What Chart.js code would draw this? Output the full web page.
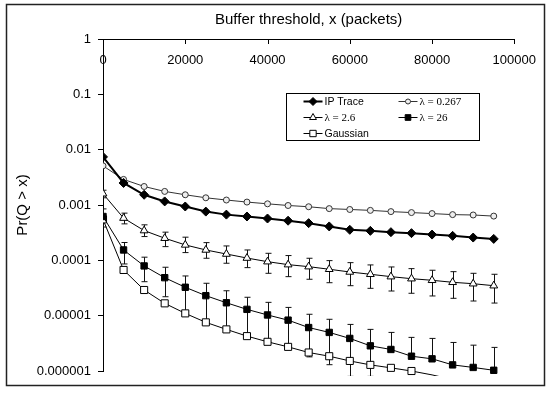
<!DOCTYPE html>
<html lang="en">
<head>
<meta charset="UTF-8" />
<title>Pr(Q &gt; x) vs buffer threshold</title>
<script src="https://cdn.jsdelivr.net/npm/chart.js"></script>
<style>
  body { margin: 0; background: #fff; }
  canvas { display: block; }
</style>
</head>
<body>
<canvas id="chart" width="550" height="393"></canvas>
<script>
// buffer threshold (packets)
const xValues = [0, 5000, 10000, 15000, 20000, 25000, 30000, 35000, 40000, 45000,
  50000, 55000, 60000, 65000, 70000, 75000, 80000, 85000, 90000, 95000];

const ipTrace = [0.0074, 0.0025, 0.00153, 0.00116, 0.00094, 0.00076, 0.00067, 0.00062, 0.00057, 0.00052,
  0.00047, 0.00041, 0.000356, 0.000341, 0.000323, 0.00031, 0.000292, 0.000277, 0.000258, 0.000244];

const lambda0267 = [0.0051, 0.0029, 0.00216, 0.00176, 0.00153, 0.00135, 0.00123, 0.00113, 0.00105, 0.00098,
  0.00093, 0.00086, 0.00083, 0.0008, 0.00076, 0.00073, 0.0007, 0.00067, 0.00066, 0.00063];

const lambda2_6 = [0.0016, 0.00058, 0.000345, 0.000251, 0.00019, 0.000154, 0.00013, 0.00011, 0.0000946, 0.0000836,
  0.0000769, 0.000069, 0.0000616, 0.000056, 0.0000507, 0.0000466, 0.0000436, 0.0000401, 0.0000378, 0.0000348];
const lambda2_6Hi = [0.00185, 0.000713, 0.000438, 0.000323, 0.000262, 0.000209, 0.000182, 0.000154, 0.000134, 0.000122,
  0.000109, 0.0000988, 0.0000908, 0.0000826, 0.0000759, 0.0000708, 0.0000662, 0.0000624, 0.0000583, 0.000056];
const lambda2_6Lo = [0.00135, 0.000456, 0.000269, 0.000177, 0.000138, 0.000109, 0.0000886, 0.0000738, 0.0000583, 0.0000507,
  0.0000455, 0.0000394, 0.0000348, 0.0000312, 0.0000279, 0.0000254, 0.0000227, 0.0000206, 0.0000184, 0.0000169];

const lambda26 = [0.00062, 0.000154, 0.0000792, 0.0000486, 0.0000326, 0.000023, 0.0000171, 0.000013, 0.0000103, 0.0000083,
  0.0000061, 0.00000498, 0.00000388, 0.00000285, 0.00000245, 0.00000185, 0.00000166, 0.00000129, 0.00000116, 0.00000103];
const lambda26Hi = [0.00085, 0.00021, 0.000114, 0.000075, 0.0000522, 0.0000385, 0.0000282, 0.0000215, 0.0000174, 0.0000141,
  0.0000106, 0.0000086, 0.00000695, 0.00000565, 0.00000498, 0.00000405, 0.00000388, 0.00000328, 0.00000293, 0.00000267];
// lower bound goes negative for the last points, so no lower bar there
const lambda26Lo = [0.0004, 0.000086, 0.0000411, 0.000022, 0.0000118, 0.0000073, 0.0000058, 0.0000044, 0.0000033, 0.0000026,
  0.0000018, 0.0000013, 0.0000008, 0.0000008, null, null, null, null, null, null];

const gaussian = [0.00055, 0.000067, 0.0000291, 0.0000167, 0.000011, 0.00000757, 0.00000565, 0.00000427, 0.00000337, 0.00000273,
  0.00000216, 0.00000185, 0.00000152, 0.00000129, 0.00000114, 0.000001, 0.00000085, 0.0000007, 0.0000006, 0.0000005];

const yTicks = [0.000001, 0.00001, 0.0001, 0.001, 0.01, 0.1, 1];
const yTickLabels = ['0.000001', '0.00001', '0.0001', '0.001', '0.01', '0.1', '1'];

const SANS = "'Liberation Sans', Arial, sans-serif";
const SERIF = "'Liberation Serif', 'Times New Roman', serif";

function pts(vals) {
  return vals.map((v, i) => ({ x: xValues[i], y: v }));
}

// hide markers that fall under the axis minimum, the line still runs off the bottom
function radiusAbove(r) {
  return ctx => (ctx.raw && ctx.raw.y < 0.000001 ? 0 : r);
}

const clipArea = { left: 0, top: 0, right: 0, bottom: 5 };

const errorBars = {
  id: 'errorBars',
  beforeDatasetsDraw(chart) {
    const { ctx, chartArea, scales: { x, y } } = chart;
    ctx.save();
    ctx.beginPath();
    ctx.rect(chartArea.left, chartArea.top, chartArea.right - chartArea.left, chartArea.bottom - chartArea.top + 5);
    ctx.clip();
    ctx.strokeStyle = '#111';
    ctx.lineWidth = 1;
    chart.data.datasets.forEach(ds => {
      if (!ds.errHi) return;
      ds.data.forEach((p, i) => {
        const hi = ds.errHi[i];
        const lo = ds.errLo[i];
        const px = Math.round(x.getPixelForValue(p.x)) + 0.5;
        const mid = y.getPixelForValue(p.y);
        const top = hi != null ? y.getPixelForValue(hi) : mid;
        const bot = lo != null ? y.getPixelForValue(lo) : mid;
        ctx.beginPath();
        ctx.moveTo(px, top);
        ctx.lineTo(px, bot);
        if (hi != null) { ctx.moveTo(px - 3, top); ctx.lineTo(px + 3, top); }
        if (lo != null) { ctx.moveTo(px - 3, bot); ctx.lineTo(px + 3, bot); }
        ctx.stroke();
      });
    });
    ctx.restore();
  }
};

// x ticks in the reference point down into the plot
const innerTicks = {
  id: 'innerTicks',
  afterDraw(chart) {
    const { ctx, chartArea, scales: { x } } = chart;
    ctx.save();
    ctx.strokeStyle = '#000';
    ctx.lineWidth = 1;
    x.ticks.forEach(t => {
      const px = Math.round(x.getPixelForValue(t.value)) + 0.5;
      ctx.beginPath();
      ctx.moveTo(px, chartArea.top);
      ctx.lineTo(px, chartArea.top + 5);
      ctx.stroke();
    });
    ctx.restore();
  }
};

const boxLegend = {
  id: 'boxLegend',
  afterDraw(chart) {
    const ctx = chart.ctx;
    const entries = [
      { ds: 0, col: 0, row: 0, font: SANS, size: 10.5 },
      { ds: 1, col: 1, row: 0, font: SERIF, size: 11 },
      { ds: 2, col: 0, row: 1, font: SERIF, size: 11 },
      { ds: 3, col: 1, row: 1, font: SERIF, size: 11 },
      { ds: 4, col: 0, row: 2, font: SANS, size: 10.5 }
    ];
    const left = 286.5, top = 93.5;
    ctx.save();
    ctx.fillStyle = '#fff';
    ctx.fillRect(left, top, 193, 47);
    ctx.strokeStyle = '#000';
    ctx.lineWidth = 1;
    ctx.strokeRect(left, top, 193, 47);
    entries.forEach(e => {
      const ds = chart.data.datasets[e.ds];
      const x0 = left + 17 + e.col * 95;
      const yy = top + 8 + e.row * 16;
      ctx.strokeStyle = ds.borderColor;
      ctx.lineWidth = ds.borderWidth;
      ctx.beginPath();
      ctx.moveTo(x0, yy);
      ctx.lineTo(x0 + 19, yy);
      ctx.stroke();
      ctx.fillStyle = ds.pointBackgroundColor;
      ctx.strokeStyle = ds.pointBorderColor;
      ctx.lineWidth = 1;
      Chart.helpers.drawPoint(ctx, {
        pointStyle: ds.pointStyle,
        radius: ds.legendRadius,
        rotation: 0,
        borderWidth: 1
      }, x0 + 9.5, yy);
      ctx.fillStyle = '#000';
      ctx.font = e.size + 'px ' + e.font;
      ctx.textBaseline = 'middle';
      ctx.textAlign = 'left';
      ctx.fillText(ds.label, x0 + 21, yy + 0.5);
    });
    ctx.restore();
  }
};

const outerFrame = {
  id: 'outerFrame',
  afterDraw(chart) {
    const ctx = chart.ctx;
    ctx.save();
    ctx.strokeStyle = '#222';
    ctx.lineWidth = 1.5;
    ctx.strokeRect(6.5, 4.5, 538, 381);
    ctx.restore();
  }
};

new Chart(document.getElementById('chart'), {
  type: 'line',
  data: {
    datasets: [
      {
        label: 'IP Trace',
        data: pts(ipTrace),
        borderColor: '#000',
        borderWidth: 2,
        pointStyle: 'rectRot',
        pointRadius: 4.5,
        legendRadius: 4,
        pointBackgroundColor: '#000',
        pointBorderColor: '#000',
        pointBorderWidth: 1
      },
      {
        label: 'λ = 0.267',
        data: pts(lambda0267),
        borderColor: '#333',
        borderWidth: 1,
        pointStyle: 'circle',
        pointRadius: 3,
        legendRadius: 2.5,
        pointBackgroundColor: '#eee',
        pointBorderColor: '#333',
        pointBorderWidth: 1
      },
      {
        label: 'λ = 2.6',
        data: pts(lambda2_6),
        errHi: lambda2_6Hi,
        errLo: lambda2_6Lo,
        borderColor: '#000',
        borderWidth: 1,
        pointStyle: 'triangle',
        pointRadius: 4.5,
        legendRadius: 4,
        pointBackgroundColor: '#fff',
        pointBorderColor: '#000',
        pointBorderWidth: 1
      },
      {
        label: 'λ = 26',
        data: pts(lambda26),
        errHi: lambda26Hi,
        errLo: lambda26Lo,
        borderColor: '#000',
        borderWidth: 1,
        pointStyle: 'rect',
        pointRadius: 4.5,
        legendRadius: 4,
        pointBackgroundColor: '#000',
        pointBorderColor: '#000',
        pointBorderWidth: 1
      },
      {
        label: 'Gaussian',
        data: pts(gaussian),
        borderColor: '#000',
        borderWidth: 1,
        pointStyle: 'rect',
        pointRadius: radiusAbove(5),
        legendRadius: 4.5,
        pointBackgroundColor: '#fff',
        pointBorderColor: '#000',
        pointBorderWidth: 1
      }
    ].map(ds => Object.assign(ds, { tension: 0, fill: false, clip: clipArea }))
  },
  options: {
    responsive: false,
    animation: false,
    layout: { padding: { left: 8, right: 31, top: 5, bottom: 22 } },
    plugins: {
      legend: { display: false },
      tooltip: { enabled: false }
    },
    scales: {
      x: {
        type: 'linear',
        position: 'top',
        min: 0,
        max: 100000,
        afterFit: s => { s.height = 34; },
        ticks: {
          stepSize: 20000,
          mirror: true,
          padding: 14,
          maxRotation: 0,
          color: '#000',
          font: { family: SANS, size: 13 },
          callback: v => String(v)
        },
        grid: { drawOnChartArea: false, drawTicks: false },
        border: { color: '#000', width: 1 },
        title: {
          display: true,
          text: 'Buffer threshold, x (packets)',
          color: '#000',
          font: { family: SANS, size: 15 },
          padding: { top: 6, bottom: 0 }
        }
      },
      y: {
        type: 'logarithmic',
        min: 0.000001,
        max: 1,
        afterFit: s => { s.width = 95; },
        afterBuildTicks: s => { s.ticks = yTicks.map(v => ({ value: v })); },
        ticks: {
          padding: 7,
          color: '#000',
          font: { family: SANS, size: 13 },
          callback: v => yTickLabels[yTicks.indexOf(v)]
        },
        grid: { drawOnChartArea: false, drawTicks: true, tickLength: 5, color: '#000' },
        border: { color: '#000', width: 1 },
        title: {
          display: true,
          text: 'Pr(Q > x)',
          color: '#000',
          font: { family: SANS, size: 15 },
          padding: { top: 6, bottom: 0 }
        }
      }
    }
  },
  plugins: [errorBars, innerTicks, boxLegend, outerFrame]
});
</script>
</body>
</html>
